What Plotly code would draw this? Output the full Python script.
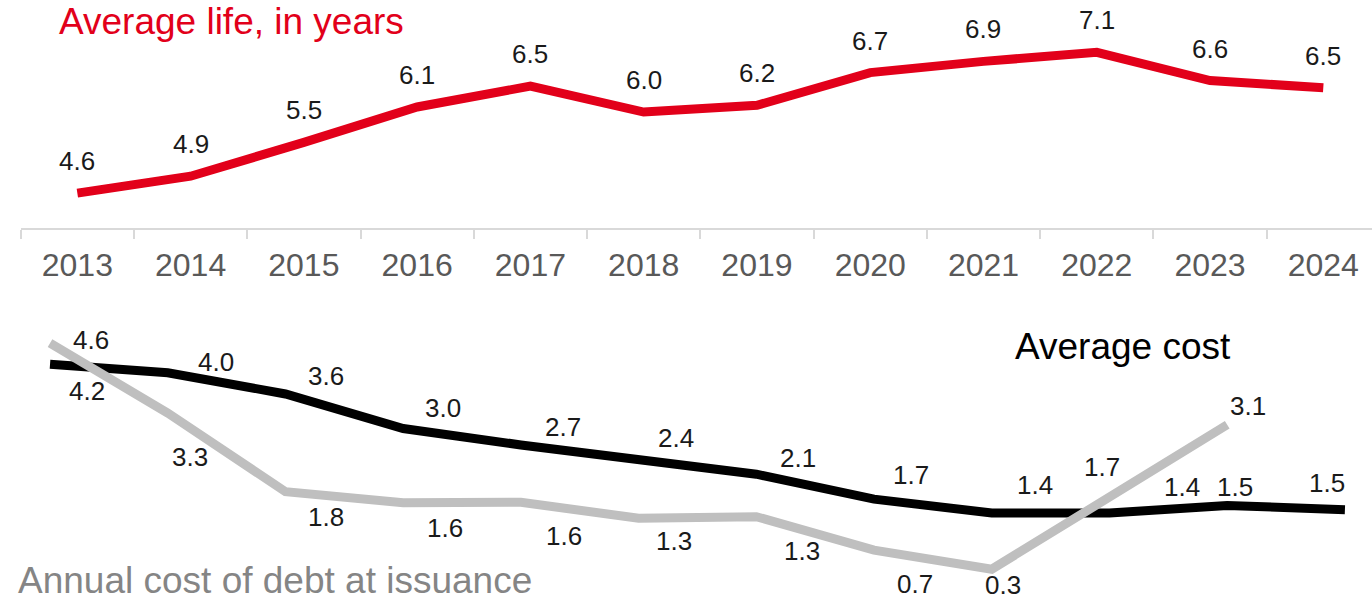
import plotly.graph_objects as go

years = ["2013", "2014", "2015", "2016", "2017", "2018", "2019", "2020", "2021", "2022", "2023", "2024"]
avg_life = [4.6, 4.9, 5.5, 6.13, 6.5, 6.04, 6.16, 6.74, 6.94, 7.1, 6.6, 6.47]
avg_cost = [4.2, 4.04, 3.64, 2.99, 2.68, 2.41, 2.13, 1.66, 1.4, 1.4, 1.54, 1.46]
issuance_cost = [4.6, 3.28, 1.8, 1.59, 1.6, 1.3, 1.33, 0.7, 0.34, 1.7, 3.06, None]

# label offsets in pixels (dx right, dy down)
life_offsets = [(0, -32)] * 12
cost_offsets = [(37, 27), (48, -11), (41, -18), (40, -21), (42, -18), (37, -21),
                (42, -16), (37, -24), (43, -28), (73, -26), (8, -18), (-18, -27)]
issue_offsets = [(41, -3), (22, 44), (41, 25), (42, 25), (43, 34), (35, 23),
                 (46, 34), (41, 34), (11, 16), (-7, -30), (21, -19)]

RED = "#E2001A"
FONT = "Liberation Sans, Arial, sans-serif"
W, H = 1372, 600

fig = go.Figure()
fig.add_trace(go.Scatter(x=years, y=avg_life, mode="lines", xaxis="x", yaxis="y",
                         line=dict(color=RED, width=9), hoverinfo="skip"))
fig.add_trace(go.Scatter(x=years, y=avg_cost, mode="lines", xaxis="x2", yaxis="y2",
                         line=dict(color="#000000", width=9), hoverinfo="skip"))
fig.add_trace(go.Scatter(x=years, y=issuance_cost, mode="lines", xaxis="x2", yaxis="y2",
                         line=dict(color="#BFBFBF", width=9), hoverinfo="skip"))

ann = []
def add_labels(vals, offs, xr, yr):
    for i, (v, (dx, dy)) in enumerate(zip(vals, offs)):
        if v is None:
            continue
        ann.append(dict(x=i, y=v, xref=xr, yref=yr, text=f"{v:.1f}", showarrow=False,
                        xshift=dx, yshift=-dy, xanchor="center", yanchor="middle",
                        font=dict(size=26, color="#1A1A1A", family=FONT)))

add_labels(avg_life, life_offsets, "x", "y")
add_labels(avg_cost, cost_offsets, "x2", "y2")
add_labels(issuance_cost, issue_offsets, "x2", "y2")

ann.append(dict(x=57 / W, y=1 - 22 / H, xref="paper", yref="paper", xanchor="left", yanchor="middle",
                text="Average life, in years", showarrow=False,
                font=dict(size=37, color=RED, family=FONT)))
ann.append(dict(x=1013 / W, y=1 - 346 / H, xref="paper", yref="paper", xanchor="left", yanchor="middle",
                text="Average cost", showarrow=False,
                font=dict(size=37, color="#000000", family=FONT)))
ann.append(dict(x=16 / W, y=1 - 580 / H, xref="paper", yref="paper", xanchor="left", yanchor="middle",
                text="Annual cost of debt at issuance", showarrow=False,
                font=dict(size=37, color="#858585", family=FONT)))

fig.update_layout(
    width=W, height=H, margin=dict(l=0, r=0, t=0, b=0),
    paper_bgcolor="white", plot_bgcolor="white", showlegend=False,
    annotations=ann,
    xaxis=dict(type="category", domain=[20.7 / W, 1], range=[-0.5, 11.43], anchor="y",
               showline=True, linecolor="#D9D9D9", linewidth=2, showgrid=False, zeroline=False,
               ticks="outside", tickson="boundaries", ticklen=9, tickwidth=2, tickcolor="#D9D9D9",
               ticklabelstandoff=8,
               tickfont=dict(size=32, color="#595959", family=FONT)),
    yaxis=dict(domain=[0.62, 1], range=[3.98, 8.03], visible=False),
    xaxis2=dict(type="category", domain=[0, 1], range=[-0.425, 11.23], anchor="y2", visible=False),
    yaxis2=dict(domain=[0, 0.5], range=[-0.24, 5.41], visible=False),
)

fig.write_html("out.html", config={"displayModeBar": False})
